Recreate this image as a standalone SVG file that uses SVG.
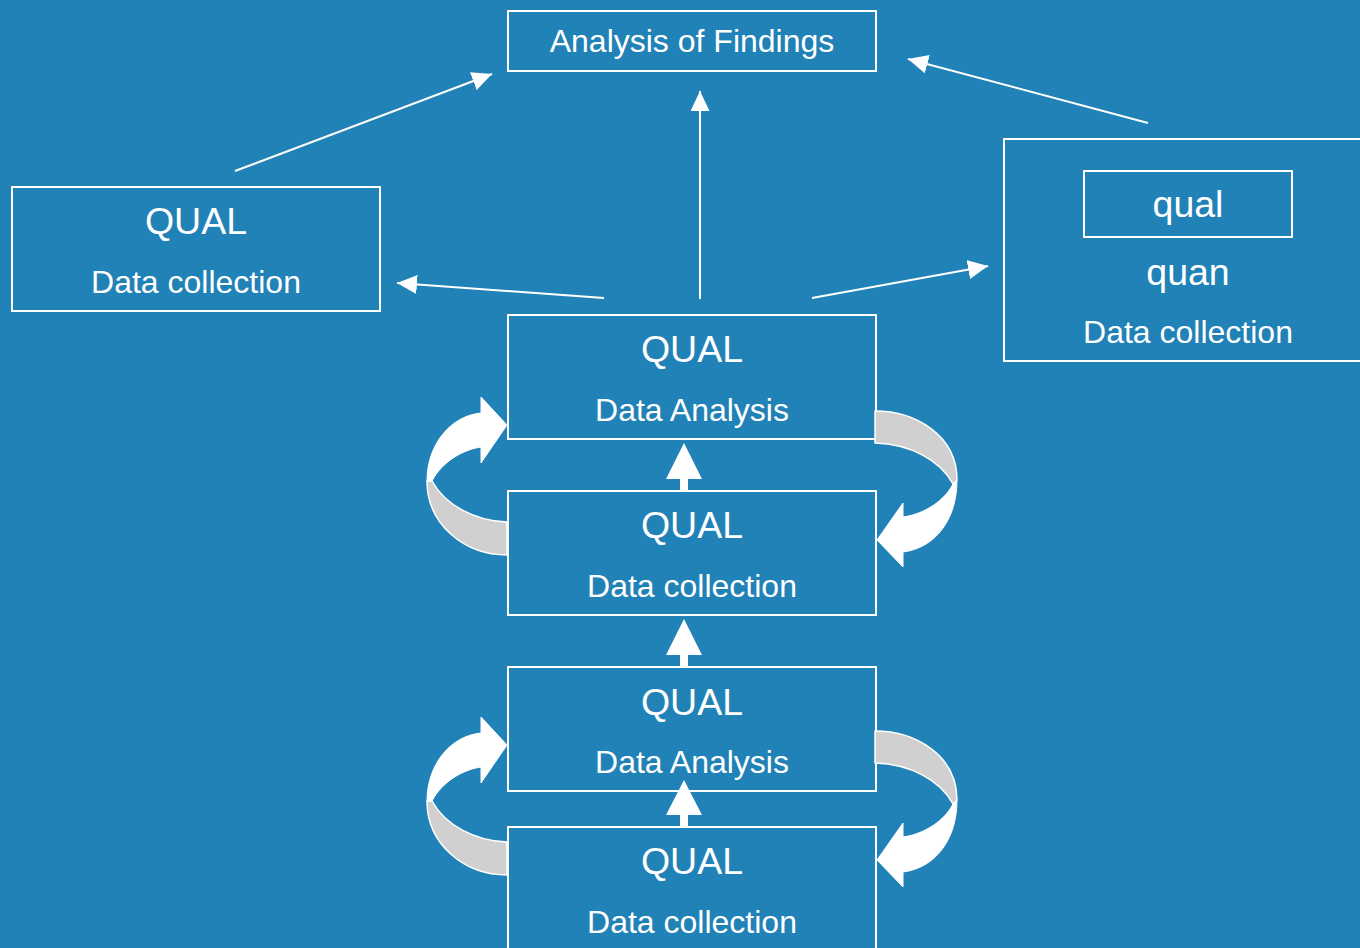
<svg xmlns="http://www.w3.org/2000/svg" width="1360" height="948" viewBox="0 0 1360 948">
<style>
.box{fill:none;stroke:#ffffff;stroke-width:2}
.t{font-family:"Liberation Sans",Arial,sans-serif;fill:#ffffff;text-anchor:middle}
.big{font-size:37.5px}
.sm{font-size:32px}
.ln{stroke:#ffffff;stroke-width:2;fill:none;marker-end:url(#ah)}
.blk{fill:#ffffff}
.band{fill:#d0d0d0;stroke:#ffffff;stroke-width:1.5;stroke-linejoin:round}
.wht{fill:#ffffff;stroke:#ffffff;stroke-width:1}
</style>
<defs>
<marker id="ah" markerUnits="userSpaceOnUse" markerWidth="20" markerHeight="19" refX="20" refY="9.5" orient="auto">
<path d="M0,0 L20,9.5 L0,19 Z" fill="#ffffff"/>
</marker>
<g id="loopL">
<path class="band" d="M427,481 C427,525 465,555 507,555 L507,522 C475,521 445,505 432,481 Z"/>
<path class="wht" d="M427,481 C427,445 450,416 481,413 L481,397 L507,425 L481,463 L481,447 C462,450 442,462 432,481 Z"/>
</g>
<g id="loopR">
<path class="band" d="M875,411 C915,411 957,435 957,480 L953,484 C940,460 910,444 875,443 Z"/>
<path class="wht" d="M957,480 C957,520 935,548 903,552 L903,567 L877,540 L903,503 L903,517 C925,514 945,500 953,484 Z"/>
</g>
</defs>
<rect x="0" y="0" width="1360" height="948" fill="#2182b7"/>

<g id="findings">
<rect class="box" x="508" y="11" width="368" height="60"/>
<text class="t sm" x="692" y="52">Analysis of Findings</text>
</g>

<g id="qual-left">
<rect class="box" x="12" y="187" width="368" height="124"/>
<text class="t big" x="196" y="234">QUAL</text>
<text class="t sm" x="196" y="293">Data collection</text>
</g>

<g id="qual-quan-right">
<rect class="box" x="1004" y="139" width="368" height="222"/>
<rect class="box" x="1084" y="171" width="208" height="66"/>
<text class="t big" x="1188" y="217">qual</text>
<text class="t big" x="1188" y="285">quan</text>
<text class="t sm" x="1188" y="343">Data collection</text>
</g>

<g id="analysis1">
<rect class="box" x="508" y="315" width="368" height="124"/>
<text class="t big" x="692" y="362">QUAL</text>
<text class="t sm" x="692" y="421">Data Analysis</text>
</g>

<g id="collection1">
<rect class="box" x="508" y="491" width="368" height="124"/>
<text class="t big" x="692" y="538">QUAL</text>
<text class="t sm" x="692" y="597">Data collection</text>
</g>

<g id="analysis2">
<rect class="box" x="508" y="667" width="368" height="124"/>
<text class="t big" x="692" y="715">QUAL</text>
<text class="t sm" x="692" y="773">Data Analysis</text>
</g>

<g id="collection2">
<rect class="box" x="508" y="827" width="368" height="124"/>
<text class="t big" x="692" y="874">QUAL</text>
<text class="t sm" x="692" y="933">Data collection</text>
</g>

<g id="connectors">
<line class="ln" x1="235" y1="171" x2="492" y2="74"/>
<line class="ln" x1="700" y1="299" x2="700" y2="91"/>
<line class="ln" x1="1148" y1="123" x2="908" y2="59"/>
<line class="ln" x1="604" y1="298" x2="397" y2="283"/>
<line class="ln" x1="812" y1="298" x2="988" y2="266"/>
<path class="blk" d="M684,443 L702,479 L688,479 L688,491 L680,491 L680,479 L666,479 Z"/>
<path class="blk" d="M684,619 L702,655 L688,655 L688,667 L680,667 L680,655 L666,655 Z"/>
<path class="blk" d="M684,780 L702,815 L688,815 L688,827 L680,827 L680,815 L666,815 Z"/>
<use href="#loopL"/>
<use href="#loopR"/>
<use href="#loopL" transform="translate(0,320)"/>
<use href="#loopR" transform="translate(0,320)"/>
</g>
</svg>
